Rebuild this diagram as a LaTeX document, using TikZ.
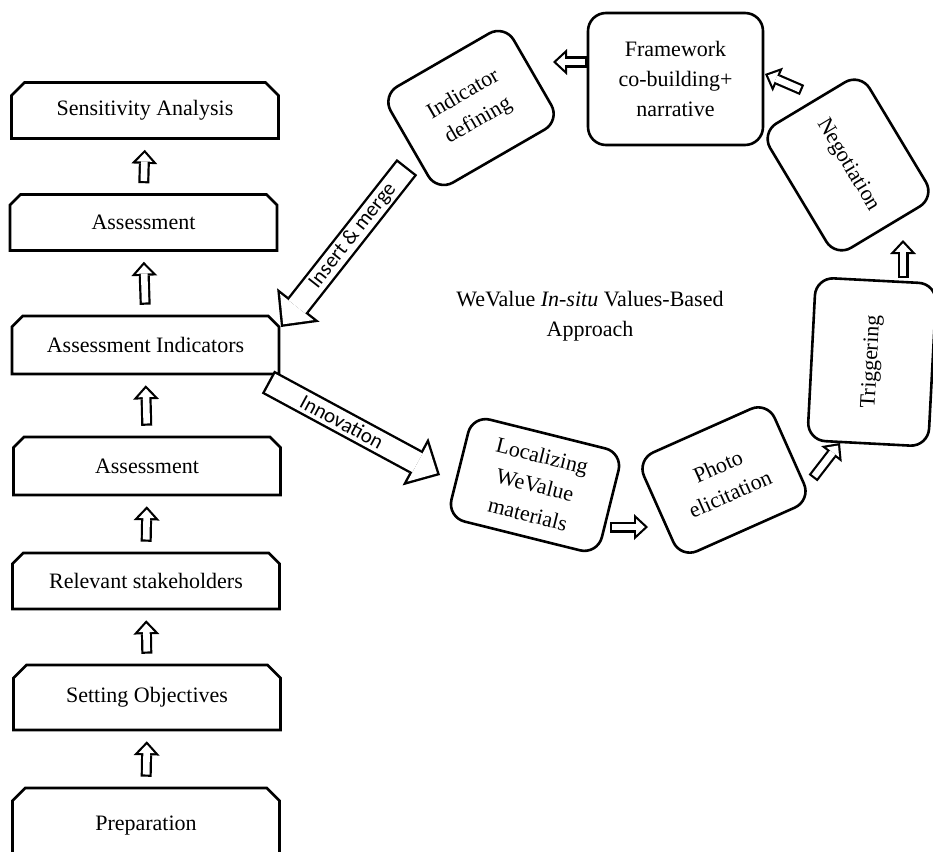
\documentclass[tikz,border=0pt]{standalone}
\usepackage{fontspec}
\setmainfont{Liberation Serif}
\newfontfamily\lblfont{Carlito}
\usetikzlibrary{arrows.meta, positioning, shapes.misc, calc}

\tikzset{
  boxtext/.style={font=\fontsize{22}{30}\selectfont, align=center},
  stepbox/.style={boxtext, chamfered rectangle,
    chamfered rectangle corners={north west,north east},
    chamfered rectangle xsep=10pt, draw, line width=2.6pt,
    minimum width=267pt, minimum height=56pt, inner sep=0pt},
  cycbox/.style={boxtext, draw, line width=2.6pt, rounded corners=18pt, inner sep=0pt},
  % hollow arrows: black body, white inside
  hsmall/.style={line width=11pt, shorten <=#1, shorten >=#1,
    -{Triangle[length=14pt, width=26pt, line width=0pt]},
    postaction={draw=white, line width=6.6pt,
      shorten <=#1+2.2pt, shorten >=#1+3.23pt,
      -{Triangle[length=8.57pt, width=15.9pt, line width=0pt]}}},
  hsmall/.default=0pt,
  hbig/.style={line width=26pt,
    -{Triangle[length=28pt, width=54pt, line width=0pt]},
    postaction={draw=white, line width=21.2pt,
      shorten <=2.4pt, shorten >=3.46pt,
      -{Triangle[length=22.14pt, width=42.7pt, line width=0pt]}}},
  arrlabel/.style={font=\lblfont\fontsize{21}{24}\selectfont, sloped, pos=.43},
}

\begin{document}
\begin{tikzpicture}[x=1pt, y=-1pt]
  \path[use as bounding box, fill=white] (0,0) rectangle (933,851);

  % left column
  \node[stepbox] (sens) at (145,110.5) {Sensitivity Analysis};
  \node[stepbox] (assA) at (143.5,222.5) {Assessment};
  \node[stepbox, minimum height=58pt] (ind) at (145.5,345) {Assessment Indicators};
  \node[stepbox, minimum height=58pt] (assB) at (147,466) {Assessment};
  \node[stepbox] (stake) at (146,581) {Relevant stakeholders};
  \node[stepbox, minimum height=65pt] (obj) at (147,697.5) {Setting Objectives};
  \node[stepbox, minimum height=76pt, chamfered rectangle xsep=13pt] (prep) at (146,826) {Preparation};

  \draw[hsmall=10pt] (assA.north) -- (sens.south);
  \draw[hsmall=10pt] (ind.north) -- (assA.south);
  \draw[hsmall=10pt] (assB.north) -- (ind.south);
  \draw[hsmall=10pt] (stake.north) -- (assB.south);
  \draw[hsmall=10pt] (obj.north) -- (stake.south);
  \draw[hsmall=10pt] (prep.north) -- (obj.south);

  % cycle
  \node[cycbox, minimum width=142pt, minimum height=111pt, rotate=30] (indef) at (471,108) {Indicator\\defining};
  \node[cycbox, minimum width=175pt, minimum height=132pt] (frame) at (675.5,79) {Framework\\co-building+\\narrative};
  \node[cycbox, minimum width=145pt, minimum height=116pt, rotate=-59] (nego) at (848,165) {Negotiation};
  \node[cycbox, minimum width=163pt, minimum height=121pt, rotate=87] (trig) at (872,362) {Triggering};
  \node[cycbox, minimum width=143pt, minimum height=108pt, rotate=24] (photo) at (724,480) {Photo\\elicitation};
  \node[cycbox, minimum width=155pt, minimum height=105pt, rotate=-14] (locz) at (535,485) {Localizing\\WeValue\\materials};

  \node[boxtext] (title) at (590,316) {WeValue \textit{In-situ} Values-Based\\Approach};

  % arrow ends
  \coordinate (lp1) at (610,527);  \coordinate (lp2) at (648,527);
  \coordinate (pt1) at (813,478);  \coordinate (pt2) at (840,443);
  \coordinate (tn1) at (903,278);  \coordinate (tn2) at (903,240);
  \coordinate (nf1) at (802,90);   \coordinate (nf2) at (765,74);
  \coordinate (fi1) at (587,62);   \coordinate (fi2) at (553,62);
  \coordinate (im1) at (407,167);  \coordinate (im2) at (281,327);
  \coordinate (in1) at (268,382);  \coordinate (in2) at (440,475);

  \draw[hsmall] (lp1) -- (lp2);
  \draw[hsmall] (pt1) -- (pt2);
  \draw[hsmall] (tn1) -- (tn2);
  \draw[hsmall] (nf1) -- (nf2);
  \draw[hsmall] (fi1) -- (fi2);

  \draw[hbig] (im1) -- node[arrlabel] (imlbl) {Insert \& merge} (im2);
  \draw[hbig] (in1) -- node[arrlabel] (inlbl) {Innovation} (in2);
\end{tikzpicture}
\end{document}
